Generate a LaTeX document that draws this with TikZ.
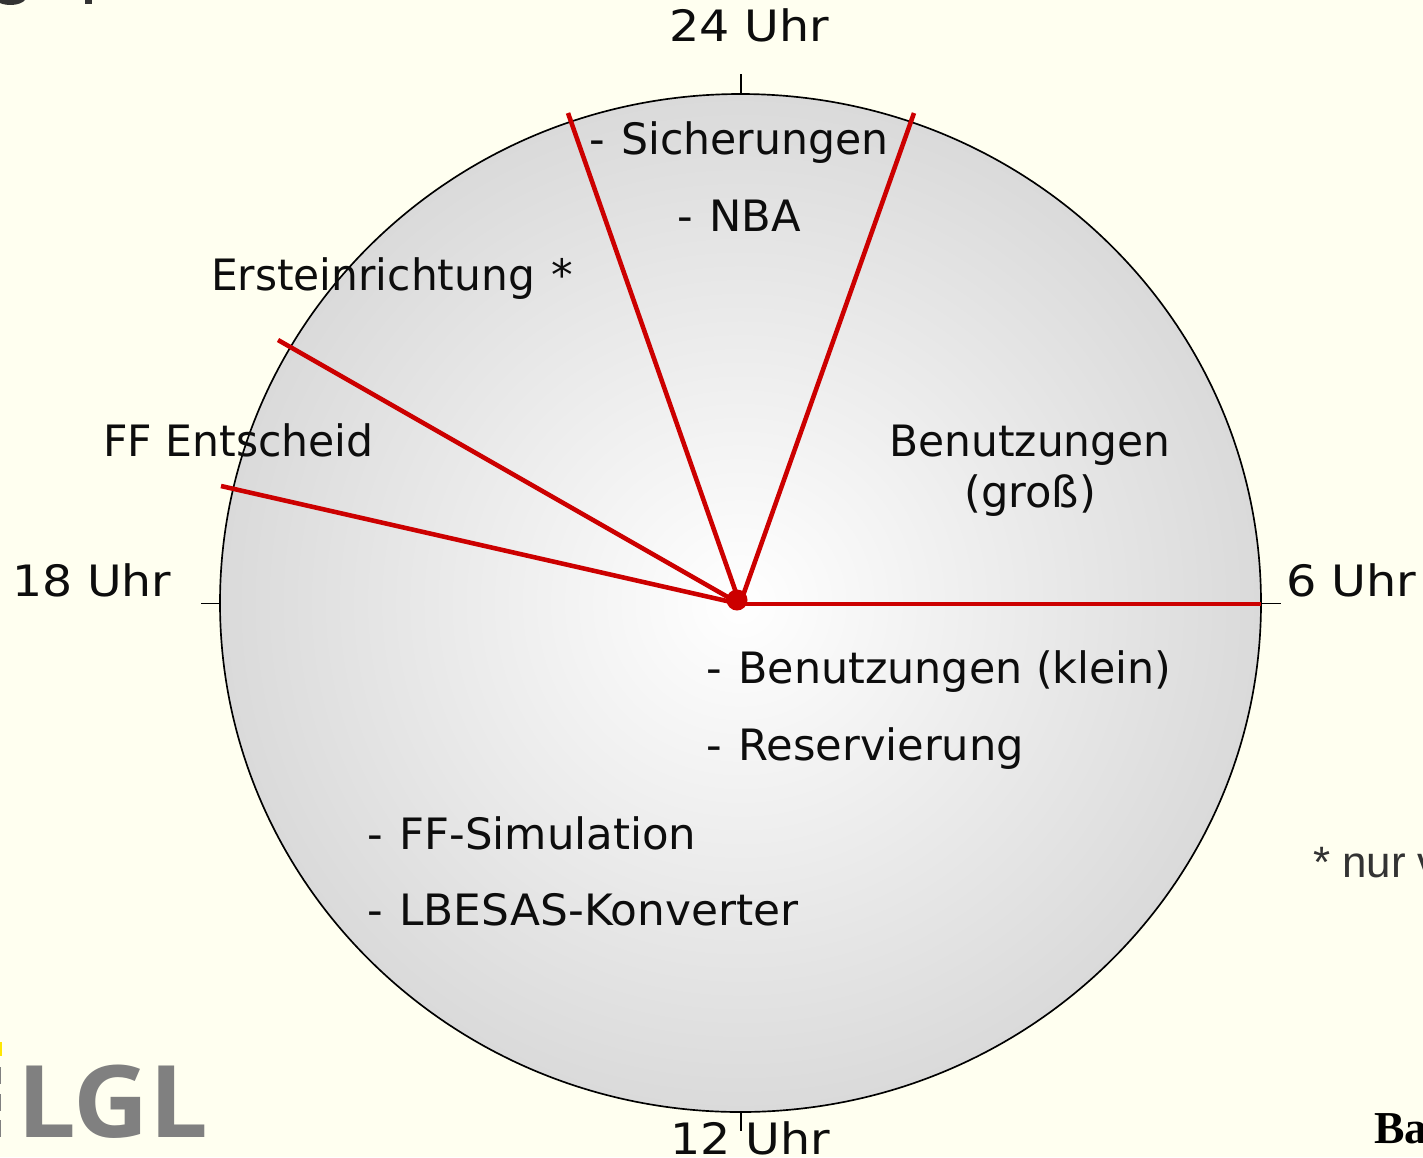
\documentclass[tikz,border=0pt]{standalone}
\usepackage{fontspec}
\usepackage{graphicx}
\setmainfont{DejaVu Sans}
\newfontfamily\logofont{Open Sans}
\newfontfamily\notefont{Liberation Sans}
\newfontfamily\serifnote{Liberation Serif}
\definecolor{paper}{HTML}{FFFFF0}
\definecolor{redline}{HTML}{CC0000}
\definecolor{rim}{HTML}{DADADA}
\pgfdeclareradialshading{discshade}{\pgfpoint{0bp}{0bp}}{color(0bp)=(white); color(25bp)=(rim); color(50bp)=(rim)}
\newcommand\hsq[2]{\scalebox{#1}[1]{#2}}
\newcommand\dashgap{-\hspace{0.39em}}
\tikzset{
  lab/.style={inner sep=0pt,outer sep=0pt,anchor=base west,font=\fontsize{24.6pt}{28pt}\selectfont,text=black!95},
  labc/.style={lab,anchor=base},
  ray/.style={draw=redline,line width=2.6pt},
  tick/.style={draw=black,line width=0.95pt},
}
\begin{document}
\begin{tikzpicture}[x=0.02cm,y=-0.02cm]
\useasboundingbox (0,0) rectangle (1423,1157);
\begin{scope}
\clip (0,0) rectangle (1423,1157);
\fill[paper] (0,0) rectangle (1423,1157);
% cropped remnants along the edges
\fill[black!80] (0,0) -- (25,0) .. controls (20,6) and (6,6) .. (0,3) -- cycle;
\fill[black!80] (85,0) rectangle (92,4);
\fill[yellow!90!orange] (0,1042) rectangle (2,1056);
\foreach \yy in {1067,1094,1120}{\fill[black!50] (0,\yy) rectangle (1.5,\yy+17);}
% disc
\shade[shading=discshade] (740.5,603) ellipse[x radius=520.5,y radius=509];
\draw[line width=0.95pt] (740.5,603) ellipse[x radius=520.5,y radius=509];
% coordinates
\coordinate (hub) at (740,604);
\coordinate (rayA) at (568,113);
\coordinate (rayB) at (914,113);
\coordinate (rayC) at (278,340);
\coordinate (rayD) at (221,486);
\coordinate (rayE) at (1261,604);
\coordinate (t1a) at (741,74); \coordinate (t1b) at (741,94);
\coordinate (t2a) at (201,603.5); \coordinate (t2b) at (220,603.5);
\coordinate (t3a) at (1261,603.5); \coordinate (t3b) at (1281,603.5);
\coordinate (t4a) at (741,1112); \coordinate (t4b) at (741,1131);
\draw[tick] (t1a)--(t1b);
\draw[tick] (t2a)--(t2b);
\draw[tick] (t3a)--(t3b);
% labels
\node[lab] (h24) at (669,41) {\hsq{1.1}{24 Uhr}};
\node[lab] (h18) at (12,596) {\hsq{1.095}{18 Uhr}};
\node[lab] (h6) at (1286,596) {\hsq{1.105}{6 Uhr}};
\node[lab] (h12) at (670,1154) {\hsq{1.1}{12 Uhr}};
\draw[tick] (t4a)--(t4b);
\node[lab] (sich) at (589,154) {\dashgap\hsq{0.985}{Sicherungen}};
\node[lab] (nba) at (677,231) {\dashgap NBA};
\node[lab] (erst) at (211,290) {\hsq{0.98}{Ersteinrichtung}\hspace{0.37em}*};
\node[lab] (ffe) at (103,456) {\hsq{0.985}{FF Entscheid}};
\node[labc] (ben) at (1030,456) {\hsq{0.98}{Benutzungen}};
\node[labc] (gross) at (1030,507) {(groß)};
\node[lab] (bkl) at (706,683) {\dashgap\hsq{0.99}{Benutzungen (klein)}};
\node[lab] (res) at (706,760) {\dashgap Reservierung};
\node[lab] (ffs) at (367,849) {\dashgap\hsq{1.005}{FF-Simulation}};
\node[lab] (lbe) at (367,925) {\dashgap\hsq{1.015}{LBESAS-Konverter}};
% rays
\draw[ray] (hub)--(rayA);
\draw[ray] (hub)--(rayB);
\draw[ray] (hub)--(rayC);
\draw[ray] (hub)--(rayD);
\draw[ray] (hub)--(rayE);
\node[circle,fill=redline,minimum size=0.42cm,inner sep=0pt] (dot) at (737,600) {};
% cropped notes and logo
\node[lab,font=\notefont\fontsize{25pt}{28pt}\selectfont,text=black!80] (note) at (1313,877) {* nur v};
\node[lab,font=\serifnote\bfseries\fontsize{26pt}{28pt}\selectfont,text=black] (ba) at (1374,1143) {Ba};
\node[lab,font=\logofont\bfseries\fontsize{57pt}{60pt}\selectfont,text=black!50] (logo) at (17,1137) {\hsq{1.04}{LGL}};
\end{scope}
\end{tikzpicture}
\end{document}
